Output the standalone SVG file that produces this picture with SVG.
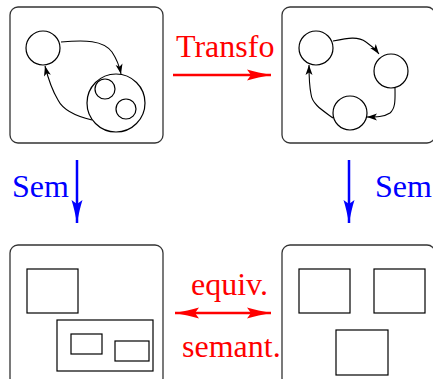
<svg xmlns="http://www.w3.org/2000/svg" width="433" height="379" viewBox="0 0 433 379">
  <style>
    .frame { fill: none; stroke: #333; stroke-width: 1.3; }
    .shape { fill: none; stroke: #000; stroke-width: 1.2; }
    .edge { fill: none; stroke: #000; stroke-width: 1.1; }
    .red { fill: #ff0000; }
    .blue { fill: #0000ff; }
    .lbl { font-family: "Liberation Serif", "Times New Roman", serif; font-size: 32px; }
  </style>
  <defs>
    <marker id="headBlack" markerUnits="userSpaceOnUse" markerWidth="14" markerHeight="10" viewBox="-11 -5 12 10" refX="0" refY="0" orient="auto">
      <path d="M0,0 L-10,-3.5 L-7.5,0 L-10,3.5 Z" fill="#000"/>
    </marker>
    <marker id="headRed" markerUnits="userSpaceOnUse" markerWidth="28" markerHeight="14" viewBox="-26 -7 28 14" refX="0" refY="0" orient="auto">
      <path d="M0,0 C-8,-1.5 -17,-3.5 -24,-5.5 L-20,0 L-24,5.5 C-17,3.5 -8,1.5 0,0 Z" fill="#ff0000"/>
    </marker>
    <marker id="headRedStart" markerUnits="userSpaceOnUse" markerWidth="28" markerHeight="14" viewBox="-2 -7 28 14" refX="0" refY="0" orient="auto">
      <path d="M0,0 C8,-1.5 17,-3.5 24,-5.5 L20,0 L24,5.5 C17,3.5 8,1.5 0,0 Z" fill="#ff0000"/>
    </marker>
    <marker id="headBlue" markerUnits="userSpaceOnUse" markerWidth="28" markerHeight="14" viewBox="-26 -7 28 14" refX="0" refY="0" orient="auto">
      <path d="M0,0 C-8,-1.5 -17,-3.5 -23,-5.5 L-19,0 L-23,5.5 C-17,3.5 -8,1.5 0,0 Z" fill="#0000ff"/>
    </marker>
  </defs>

  <!-- source automaton -->
  <g id="automatonA">
    <rect class="frame" x="10" y="7" width="153" height="136" rx="8"/>
    <circle class="shape" cx="43" cy="48" r="17"/>
    <circle class="shape" cx="116" cy="103" r="29"/>
    <circle class="shape" cx="105" cy="89" r="10"/>
    <circle class="shape" cx="126" cy="109" r="10"/>
    <path class="edge" d="M61,42 C85,40 103,40 112,52 C116,58 119,64 121,74" marker-end="url(#headBlack)"/>
    <path class="edge" d="M92,120 C75,116 63,110 58,100 C52,90 48,78 45,66" marker-end="url(#headBlack)"/>
  </g>

  <!-- transformed automaton -->
  <g id="automatonB">
    <rect class="frame" x="282" y="7" width="153" height="136" rx="8"/>
    <circle class="shape" cx="316" cy="48" r="17"/>
    <circle class="shape" cx="391" cy="71" r="17"/>
    <circle class="shape" cx="350" cy="113" r="17"/>
    <path class="edge" d="M333,41 C348,38 358,36 366,42 C372,46 376,50 379,54" marker-end="url(#headBlack)"/>
    <path class="edge" d="M395,88 C395,98 396,108 390,113 C384,117 376,117 367,117" marker-end="url(#headBlack)"/>
    <path class="edge" d="M333,118 C322,110 312,104 311,94 C309,84 309,74 309,65" marker-end="url(#headBlack)"/>
  </g>

  <!-- semantics of the source -->
  <g id="semanticsA">
    <rect class="frame" x="10" y="245" width="153" height="141" rx="8"/>
    <rect class="shape" x="27" y="269" width="51" height="44"/>
    <rect class="shape" x="57" y="320" width="96" height="51"/>
    <rect class="shape" x="71" y="334" width="31" height="20"/>
    <rect class="shape" x="115" y="341" width="34" height="20"/>
  </g>

  <!-- semantics of the transformed automaton -->
  <g id="semanticsB">
    <rect class="frame" x="282" y="245" width="153" height="141" rx="8"/>
    <rect class="shape" x="299" y="269" width="51" height="44"/>
    <rect class="shape" x="374" y="269" width="51" height="44"/>
    <rect class="shape" x="336" y="330" width="52" height="45"/>
  </g>

  <!-- connectors between the four panels -->
  <g id="connectors">
    <line x1="173" y1="75" x2="271" y2="75" stroke="#ff0000" stroke-width="2.5" marker-end="url(#headRed)"/>
    <line x1="175" y1="313" x2="271" y2="313" stroke="#ff0000" stroke-width="2.5" marker-start="url(#headRedStart)" marker-end="url(#headRed)"/>
    <line x1="77" y1="160" x2="77" y2="223" stroke="#0000ff" stroke-width="2.5" marker-end="url(#headBlue)"/>
    <line x1="349" y1="160" x2="349" y2="223" stroke="#0000ff" stroke-width="2.5" marker-end="url(#headBlue)"/>
  </g>

  <g id="labels">
    <text class="lbl red" x="176" y="57">Transfo</text>
    <text class="lbl blue" x="12" y="197">Sem</text>
    <text class="lbl blue" x="375" y="197">Sem</text>
    <text class="lbl red" x="191" y="295">equiv.</text>
    <text class="lbl red" x="182" y="357">semant.</text>
  </g>
</svg>
